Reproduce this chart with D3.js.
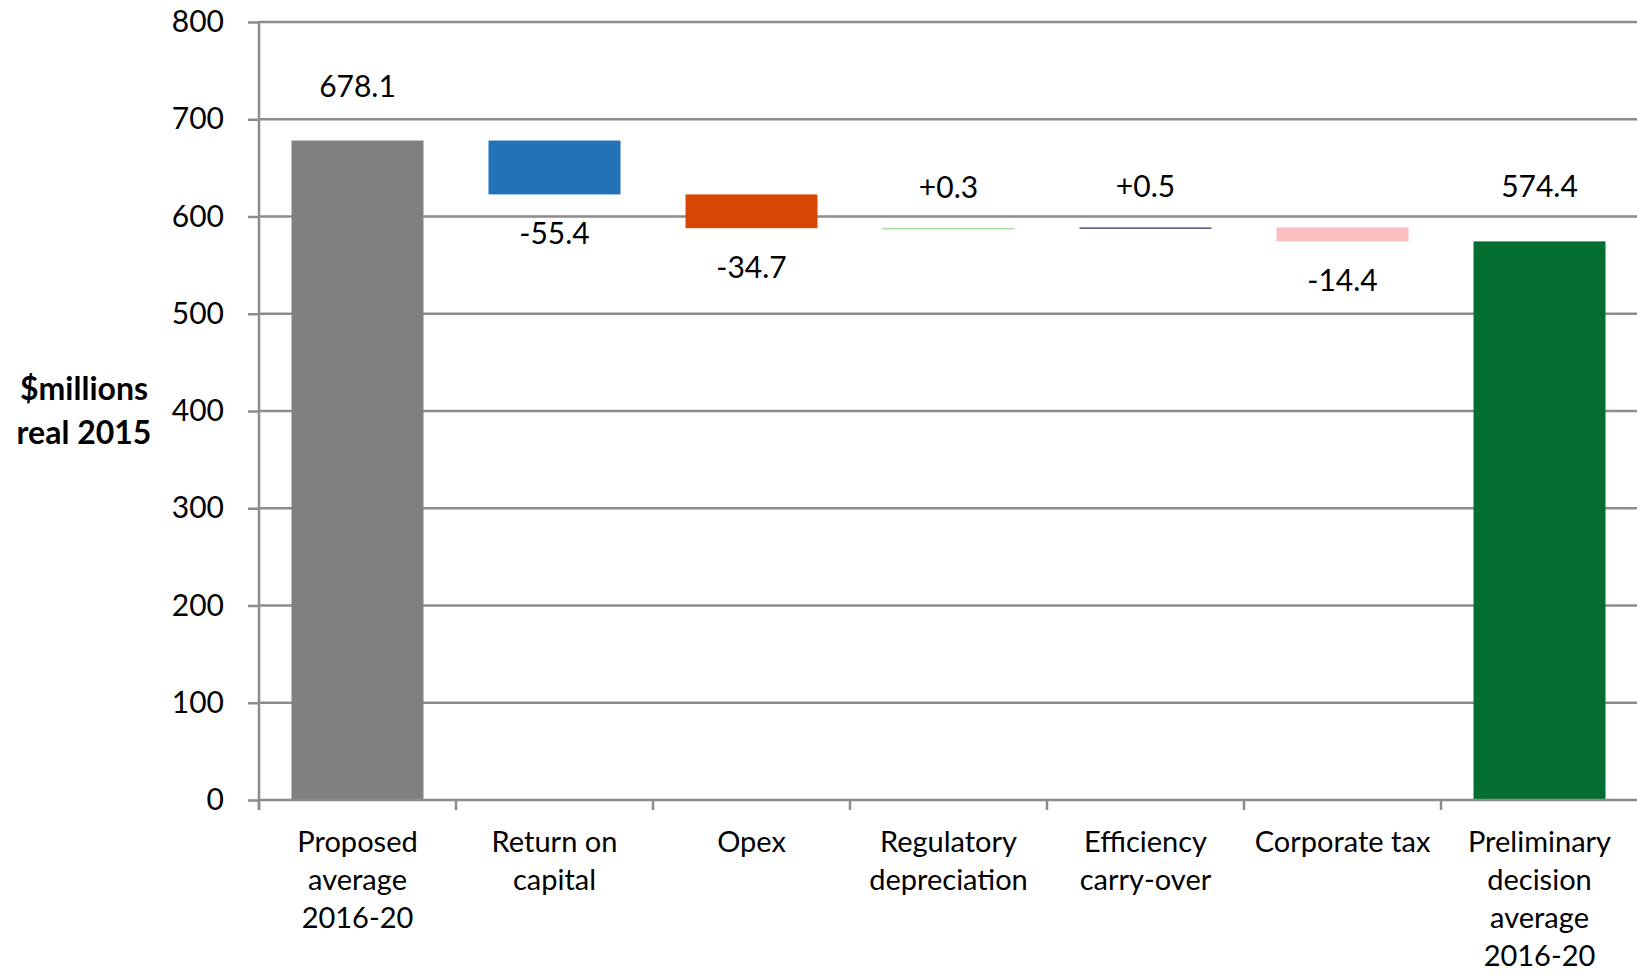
<!DOCTYPE html>
<html>
<head>
<meta charset="utf-8">
<script src="https://cdn.jsdelivr.net/npm/d3@7"></script>
<style>
  body { margin: 0; background: #fff; }
  text { font-family: Lato, "Open Sans", sans-serif; fill: #000; }
</style>
</head>
<body>
<script>
// waterfall: first and last are totals, the rest are changes
let categories = [
  ['Proposed', 'average', '2016-20'],
  ['Return on', 'capital'],
  ['Opex'],
  ['Regulatory', 'depreciation'],
  ['Efficiency', 'carry-over'],
  ['Corporate tax'],
  ['Preliminary', 'decision', 'average', '2016-20']
];
let values = [678.1, -55.4, -34.7, 0.3, 0.5, -14.4, 574.4];
let isTotal = [true, false, false, false, false, false, true];
let valueLabels = ['678.1', '-55.4', '-34.7', '+0.3', '+0.5', '-14.4', '574.4'];
let colors = ['#808080', '#2272b8', '#d64604', '#a6dba2', '#5d4b7c', '#fbbfbf', '#036e2f'];
let yTicks = [0, 100, 200, 300, 400, 500, 600, 700, 800];

let margin = {top: 22, right: 0, bottom: 175, left: 259};
let width = 1637 - (margin.left + margin.right);
let height = 975 - (margin.top + margin.bottom);

// running start/end for each bar
let running = 0;
let bars = values.map(function(v, i){
        let b;
        if(isTotal[i]){ b = {start: 0, end: v}; running = v; }
        else { b = {start: running, end: running + v}; running += v; }
        b.i = i; b.v = v; b.total = isTotal[i];
        return b;
});

let xScale = d3.scaleBand()
                .domain(d3.range(categories.length))
                .range([0, 1379])
                .paddingInner(0.33)
                .paddingOuter(0.165);

let yScale = d3.scaleLinear()
                .domain([0, 800])
                .range([height, 0]);

let svg = d3.select('body').append('svg')
                .attr('width', 1637)
                .attr('height', 975)
        .append('g')
                .attr('transform', 'translate(' + margin.left + ', ' + margin.top + ')');

// gridlines
svg.selectAll('.grid')
    .data(yTicks.slice(1))
  .enter().append('line')
    .attr('x1', 0)
    .attr('x2', width)
    .attr('y1', function(d){ return yScale(d); })
    .attr('y2', function(d){ return yScale(d); })
    .attr('stroke', '#8c8c8c')
    .attr('stroke-width', 2.5);

// y axis
let yAxis = d3.axisLeft(yScale)
                .tickValues(yTicks)
                .tickSize(11)
                .tickPadding(24);

let yg = svg.append('g').call(yAxis);
yg.select('.domain').remove();
yg.selectAll('.tick line').attr('stroke', '#8c8c8c').attr('stroke-width', 2.5);
yg.selectAll('.tick text').style('font-size', '30px').attr('fill', '#000');
yg.append('line')
    .attr('y1', -1).attr('y2', height + 10)
    .attr('stroke', '#8c8c8c').attr('stroke-width', 2.5);

// bars
svg.selectAll('.bar')
    .data(bars)
  .enter().append('rect')
    .attr('class', 'bar')
    .attr('x', function(d){ return xScale(d.i); })
    .attr('width', xScale.bandwidth())
    .attr('y', function(d){ return yScale(Math.max(d.start, d.end)); })
    .attr('height', function(d){ return Math.max(1.5, Math.abs(yScale(d.start) - yScale(d.end))); })
    .attr('fill', function(d, i){ return colors[i]; });

// x axis line with ticks at band edges
let step = xScale.step();
svg.append('line')
    .attr('x1', 0).attr('x2', width)
    .attr('y1', height).attr('y2', height)
    .attr('stroke', '#8c8c8c').attr('stroke-width', 2.5);
svg.selectAll('.xtick')
    .data(d3.range(categories.length))
  .enter().append('line')
    .attr('x1', function(d){ return d * step; })
    .attr('x2', function(d){ return d * step; })
    .attr('y1', height).attr('y2', height + 10)
    .attr('stroke', '#8c8c8c').attr('stroke-width', 2.5);

// category labels
svg.selectAll('.xlabel')
    .data(categories)
  .enter().append('text')
    .attr('text-anchor', 'middle')
    .style('font-size', '29px')
    .attr('transform', function(d, i){ return 'translate(' + (xScale(i) + xScale.bandwidth() / 2) + ',' + (height + 52) + ')'; })
    .selectAll('tspan')
    .data(function(d){ return d; })
  .enter().append('tspan')
    .attr('x', 0)
    .attr('y', function(d, j){ return j * 38; })
    .text(function(d){ return d; });

// value labels
svg.selectAll('.vlabel')
    .data(bars)
  .enter().append('text')
    .attr('text-anchor', 'middle')
    .style('font-size', '30px')
    .attr('x', function(d){ return xScale(d.i) + xScale.bandwidth() / 2; })
    .attr('y', function(d){
        if(d.v < 0) return yScale(Math.min(d.start, d.end)) + 50;
        if(d.total) return yScale(d.end) - 44;
        return yScale(Math.max(d.start, d.end)) - 30;
    })
    .text(function(d, i){ return valueLabels[i]; });

// y axis title
let title = svg.append('text')
    .attr('text-anchor', 'middle')
    .style('font-size', '32px')
    .style('font-weight', 'bold')
    .attr('transform', 'translate(' + (84 - margin.left) + ',' + (400 - margin.top) + ')');
title.append('tspan').attr('x', 0).attr('y', 0).text('$millions');
title.append('tspan').attr('x', 0).attr('y', 44).text('real 2015');
</script>
</body>
</html>
